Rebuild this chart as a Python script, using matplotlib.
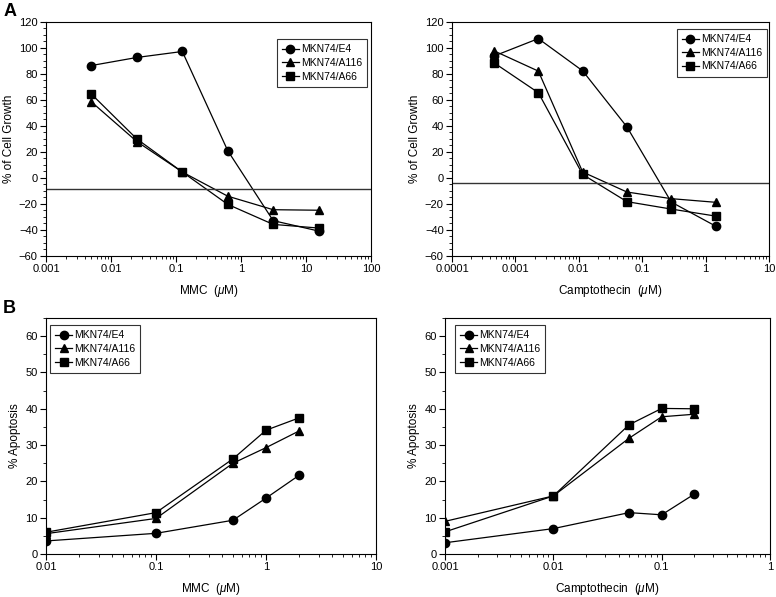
import matplotlib
matplotlib.use('Agg')
import matplotlib.pyplot as plt
from matplotlib.ticker import LogLocator, MultipleLocator, NullFormatter, FixedLocator, FixedFormatter

plt.rcParams['font.family'] = ['Liberation Sans', 'DejaVu Sans']
plt.rcParams['mathtext.fontset'] = 'custom'
plt.rcParams['mathtext.it'] = 'Liberation Sans:italic'
plt.rcParams['mathtext.rm'] = 'Liberation Sans'

labels = ['MKN74/E4', 'MKN74/A116', 'MKN74/A66']
markers = ['o', '^', 's']

# Panel A: growth inhibition
mmc_dose = [0.005, 0.025, 0.125, 0.625, 3.125, 15.625]
mmc_growth_e4 = [86.5, 92.7, 97.3, 21, -32.8, -40.8]
mmc_growth_a116 = [58.5, 28, 4.6, -14, -24.4, -24.8]
mmc_growth_a66 = [64.5, 30, 4.6, -20.3, -35.7, -38.5]
mmc_ref_line = -8.4

cpt_dose = [0.00046, 0.0023, 0.0115, 0.0574, 0.287, 1.436]
cpt_growth_e4 = [93.8, 107.2, 82.4, 39.3, -18.5, -37]
cpt_growth_a116 = [97.8, 82.2, 4.6, -10.8, -15.9, -18.7]
cpt_growth_a66 = [88.6, 65.6, 2.7, -18.2, -23.9, -29.3]
cpt_ref_line = -3.8

# Panel B: apoptosis
mmc_apo_dose = [0.01, 0.1, 0.5, 1, 2]
mmc_apo_e4 = [3.6, 5.7, 9.3, 15.4, 21.7]
mmc_apo_a116 = [5.6, 9.8, 25, 29.3, 33.9]
mmc_apo_a66 = [6, 11.4, 26.2, 34.1, 37.5]

cpt_apo_dose = [0.001, 0.01, 0.05, 0.1, 0.2]
cpt_apo_e4 = [3.1, 7, 11.4, 10.8, 16.5]
cpt_apo_a116 = [9, 16, 31.9, 37.8, 38.5]
cpt_apo_a66 = [6.1, 16, 35.6, 40.1, 40]

fig = plt.figure(figsize=(7.76, 5.97), dpi=100)

def style_axes(ax, xlim, ylim, ymajor, yminor, xticks, xlabel, ylabel):
    ax.set_xscale('log')
    ax.set_xlim(*xlim)
    ax.set_ylim(*ylim)
    ax.xaxis.set_major_locator(FixedLocator(xticks))
    ax.xaxis.set_major_formatter(FixedFormatter([('%g' % t) for t in xticks]))
    ax.xaxis.set_minor_locator(LogLocator(base=10, subs=range(2, 10)))
    ax.xaxis.set_minor_formatter(NullFormatter())
    ax.yaxis.set_major_locator(MultipleLocator(ymajor))
    ax.yaxis.set_minor_locator(MultipleLocator(yminor))
    ax.tick_params(which='major', direction='out', length=4, width=0.8, labelsize=8, pad=2)
    ax.tick_params(which='minor', direction='out', length=2.5, width=0.6)
    ax.tick_params(top=False, right=False, which='both')
    ax.set_xlabel(xlabel, fontsize=8.5, labelpad=6)
    ax.set_ylabel(ylabel, fontsize=8.5, labelpad=3)
    for s in ax.spines.values():
        s.set_linewidth(0.8)
    # y tick labels use a real minus sign like the figure
    ax.yaxis.set_major_formatter(plt.FuncFormatter(lambda v, p: ('%d' % v).replace('-', '\u2212')))

def draw_series(ax, x, series):
    for ys, m, lab in zip(series, markers, labels):
        ax.plot(x, ys, color='black', marker=m, markersize=6, linewidth=0.9, label=lab)

def add_legend(ax, loc, anchor):
    leg = ax.legend(loc=loc, bbox_to_anchor=anchor, fontsize=7.5, frameon=True, fancybox=False,
                    edgecolor='black', handlelength=1.6, handletextpad=0.2, borderpad=0.5,
                    labelspacing=0.35, borderaxespad=0)
    leg.get_frame().set_linewidth(0.8)

# A left
ax1 = fig.add_axes([0.0593, 0.5712, 0.4188, 0.392])
draw_series(ax1, mmc_dose, [mmc_growth_e4, mmc_growth_a116, mmc_growth_a66])
ax1.axhline(mmc_ref_line, color='#333333', linewidth=1.0)
style_axes(ax1, (0.001, 100), (-60, 120), 20, 5, [0.001, 0.01, 0.1, 1, 10, 100],
           r'MMC  ($\mathit{\mu}$M)', '% of Cell Growth')
add_legend(ax1, 'upper right', (0.988, 0.927))

# A right
ax2 = fig.add_axes([0.5825, 0.5712, 0.4085, 0.392])
draw_series(ax2, cpt_dose, [cpt_growth_e4, cpt_growth_a116, cpt_growth_a66])
ax2.axhline(cpt_ref_line, color='#333333', linewidth=1.0)
style_axes(ax2, (0.0001, 10), (-60, 120), 20, 5, [0.0001, 0.001, 0.01, 0.1, 1, 10],
           r'Camptothecin  ($\mathit{\mu}$M)', '% of Cell Growth')
add_legend(ax2, 'upper right', (0.994, 0.97))

# B left
ax3 = fig.add_axes([0.0593, 0.072, 0.4253, 0.3953])
draw_series(ax3, mmc_apo_dose, [mmc_apo_e4, mmc_apo_a116, mmc_apo_a66])
style_axes(ax3, (0.01, 10), (0, 65), 10, 5, [0.01, 0.1, 1, 10],
           r'MMC  ($\mathit{\mu}$M)', '% Apoptosis')
add_legend(ax3, 'upper left', (0.012, 0.97))

# B right
ax4 = fig.add_axes([0.5735, 0.072, 0.4188, 0.3953])
draw_series(ax4, cpt_apo_dose, [cpt_apo_e4, cpt_apo_a116, cpt_apo_a66])
style_axes(ax4, (0.001, 1), (0, 65), 10, 5, [0.001, 0.01, 0.1, 1],
           r'Camptothecin  ($\mathit{\mu}$M)', '% Apoptosis')
add_legend(ax4, 'upper left', (0.031, 0.97))

fig.text(0.004, 0.995, 'A', fontsize=13, fontweight='bold', va='top', ha='left')
fig.text(0.004, 0.497, 'B', fontsize=13, fontweight='bold', va='top', ha='left')

fig.savefig('out.png', dpi=100)
